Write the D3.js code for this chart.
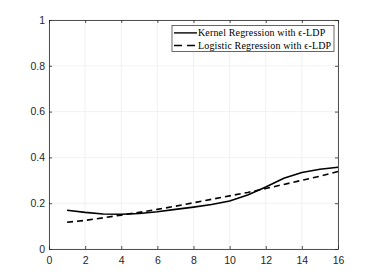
<!DOCTYPE html>
<html>
<head>
<meta charset="utf-8">
<script src="https://cdn.jsdelivr.net/npm/d3@7"></script>
<style>
  body { margin: 0; background: #fff; }
  svg { display: block; }
</style>
</head>
<body>
<svg id="chart" width="374" height="280"></svg>
<script>
// values
const xs = [1, 2, 3, 4, 5, 6, 7, 8, 9, 10, 11, 12, 13, 14, 15, 16];
const kernel = [0.169, 0.160, 0.153, 0.152, 0.155, 0.163, 0.173, 0.183, 0.194, 0.210, 0.236, 0.271, 0.309, 0.334, 0.348, 0.357];
const logistic = [0.117, 0.125, 0.136, 0.148, 0.160, 0.173, 0.187, 0.202, 0.217, 0.232, 0.247, 0.264, 0.282, 0.300, 0.318, 0.338];
const xTicks = [0, 2, 4, 6, 8, 10, 12, 14, 16];
const yTicks = [0, 0.2, 0.4, 0.6, 0.8, 1];
const legendNames = ["Kernel Regression with \u03f5-LDP", "Logistic Regression with \u03f5-LDP"];

const mLeft = 49, mRight = 338, mTop = 20, mBottom = 249;
const svg = d3.select("#chart");

const x = d3.scaleLinear().domain([0, 16]).range([mLeft, mRight]);
const y = d3.scaleLinear().domain([0, 1]).range([mBottom, mTop]);

// grid
svg.append("g")
  .selectAll("line")
  .data(xTicks)
  .enter().append("line")
  .attr("x1", d => x(d)).attr("x2", d => x(d))
  .attr("y1", mTop).attr("y2", mBottom)
  .attr("stroke", "#e8e8e8").attr("stroke-width", 0.6);
svg.append("g")
  .selectAll("line")
  .data(yTicks)
  .enter().append("line")
  .attr("x1", mLeft).attr("x2", mRight)
  .attr("y1", d => y(d)).attr("y2", d => y(d))
  .attr("stroke", "#e8e8e8").attr("stroke-width", 0.6);

// axes (ticks pointing inward)
const axisColor = "#262626";
const fmt = d => d3.format("~g")(d);

const gx = svg.append("g").attr("transform", "translate(0," + mBottom + ")")
  .call(d3.axisBottom(x).tickValues(xTicks).tickFormat(fmt).tickSizeInner(-3).tickSizeOuter(0).tickPadding(8));
const gxt = svg.append("g").attr("transform", "translate(0," + mTop + ")")
  .call(d3.axisTop(x).tickValues(xTicks).tickFormat("").tickSizeInner(-3).tickSizeOuter(0));
const gy = svg.append("g").attr("transform", "translate(" + mLeft + ",0)")
  .call(d3.axisLeft(y).tickValues(yTicks).tickFormat(fmt).tickSizeInner(-3).tickSizeOuter(0).tickPadding(4));
const gyr = svg.append("g").attr("transform", "translate(" + mRight + ",0)")
  .call(d3.axisRight(y).tickValues(yTicks).tickFormat("").tickSizeInner(-3).tickSizeOuter(0));

[gx, gxt, gy, gyr].forEach(g => {
  g.selectAll("path").attr("stroke", axisColor).attr("stroke-width", 0.8);
  g.selectAll("line").attr("stroke", axisColor).attr("stroke-width", 0.8);
  g.selectAll("text").attr("fill", axisColor)
    .style("font-family", "'Liberation Sans', Arial, sans-serif").style("font-size", "10.5px");
});

// lines
const line = d3.line().x(d => x(d[0])).y(d => y(d[1]));
svg.append("path")
  .datum(xs.map((v, i) => [v, kernel[i]]))
  .attr("d", line).attr("fill", "none")
  .attr("stroke", "#000").attr("stroke-width", 1.6);
svg.append("path")
  .datum(xs.map((v, i) => [v, logistic[i]]))
  .attr("d", line).attr("fill", "none")
  .attr("stroke", "#000").attr("stroke-width", 1.6)
  .attr("stroke-dasharray", "6,4");

// legend
const lg = svg.append("g").attr("transform", "translate(172,25.5)");
lg.append("rect").attr("width", 162).attr("height", 26)
  .attr("fill", "#fff").attr("stroke", axisColor).attr("stroke-width", 0.7);
legendNames.forEach((name, i) => {
  const yy = 7.4 + i * 12.6;
  lg.append("line").attr("x1", 2).attr("x2", 25).attr("y1", yy).attr("y2", yy)
    .attr("stroke", "#000").attr("stroke-width", 1.4)
    .attr("stroke-dasharray", i === 1 ? "8,5" : null);
  lg.append("text").attr("x", 26).attr("y", yy).attr("dy", "0.35em")
    .style("font-family", "'Liberation Serif', 'Times New Roman', serif")
    .style("font-size", "10px").style("letter-spacing", "0.15px").attr("fill", "#000")
    .text(name);
});
</script>
</body>
</html>
